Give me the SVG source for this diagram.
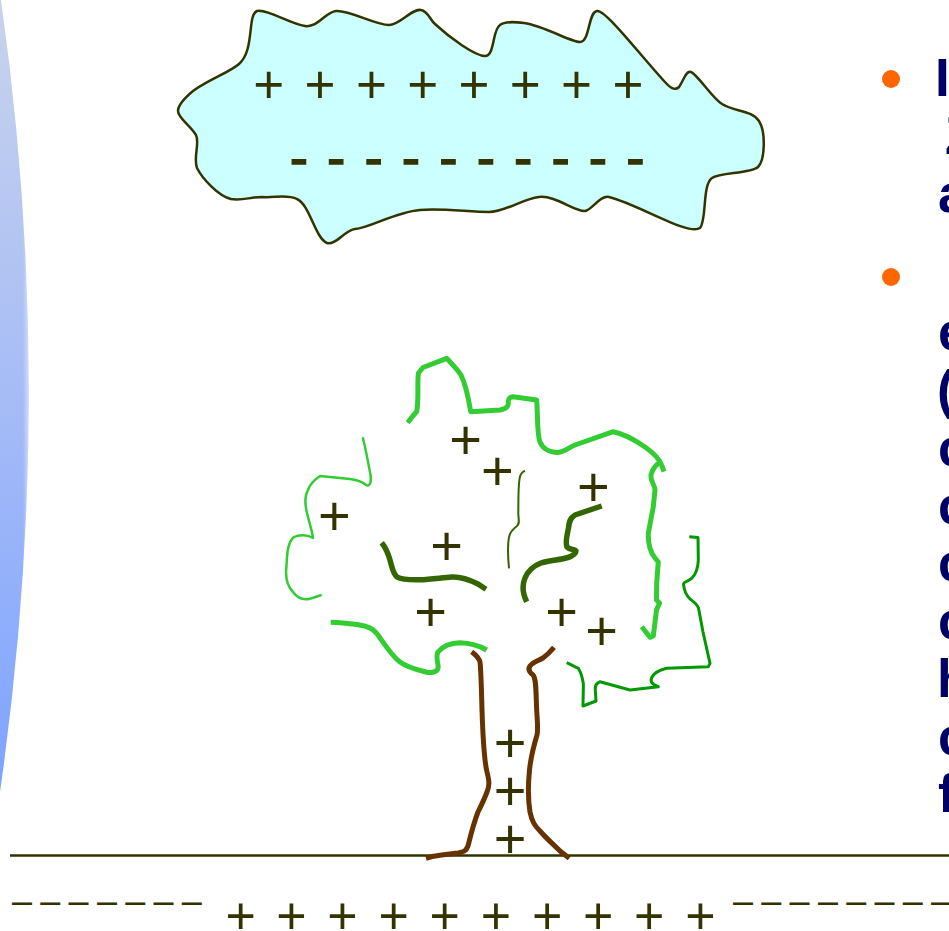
<svg xmlns="http://www.w3.org/2000/svg" width="949" height="931" viewBox="0 0 949 931">
  <defs>
    <linearGradient id="edgeFill" x1="0" y1="0" x2="0" y2="1">
      <stop offset="0" stop-color="#c8d3ec"/>
      <stop offset="0.5" stop-color="#a6bcf6"/>
      <stop offset="1" stop-color="#7ea3ff"/>
    </linearGradient>
    <linearGradient id="edgeFade" x1="0" y1="0" x2="1" y2="0">
      <stop offset="0" stop-color="#ffffff" stop-opacity="0"/>
      <stop offset="0.8" stop-color="#ffffff" stop-opacity="0"/>
      <stop offset="1" stop-color="#ffffff" stop-opacity="0.5"/>
    </linearGradient>
    <style>
      .charge { font-family: "Liberation Sans", Arial, sans-serif; fill: #333300; text-anchor: middle; }
      .body { font-family: "Liberation Sans", Arial, sans-serif; fill: #000066; font-size: 53px; font-weight: bold; }
      .leaf { fill: none; stroke: #33cc33; stroke-linecap: butt; stroke-linejoin: round; }
      .branch { fill: none; stroke: #336600; stroke-linejoin: round; }
      .leaf2 { fill: none; stroke: #009900; stroke-width: 3; stroke-linejoin: round; }
      .bark { fill: none; stroke: #663300; stroke-width: 5; stroke-linejoin: round; }
      .bullet { fill: #ff6600; }
    </style>
  </defs>

  <rect width="949" height="931" fill="#ffffff"/>

  <!-- curved blue band along the left edge -->
  <g id="edge-band">
    <path d="M0,0 L1,0 Q57,395 0,792 Z" fill="url(#edgeFill)"/>
    <path d="M0,0 L1,0 Q57,395 0,792 Z" fill="url(#edgeFade)"/>
  </g>

  <!-- charged cloud -->
  <g id="cloud">
    <path d="M257,11 C268,9 290,24 305,26 C318,28 325,12 336,11 C350,10 375,25 389,25 C400,25 412,8 421,10 C428,11 430,20 435,24 C450,38 475,56 485,56 C495,56 492,30 500,25 C505,21 515,22 524,23 C545,26 570,42 580,42 C590,42 588,12 597,11 C606,10 640,55 665,82 C672,90 676,90 679,87 C684,80 686,70 691,72 C698,75 712,98 722,104 C735,112 752,110 759,121 C766,132 765,160 758,167 C750,174 720,172 712,178 C702,185 707,220 700,228 C688,236 640,205 609,197 C600,195 592,210 585,211 C575,212 555,195 539,197 C522,199 505,212 489,212 C470,212 440,208 420,210 C395,212 370,228 355,229 C345,230 335,246 327,243 C315,238 310,205 297,199 C287,194 275,198 262,197 C250,197 242,201 231,199 C218,196 202,178 197,168 C193,158 200,143 196,135 C190,125 178,118 178,111 C178,104 187,96 193,91 C208,80 230,72 239,64 C255,50 247,15 257,11 Z" fill="#ccffff" stroke="#333300" stroke-width="2.5"/>
    <text class="charge" font-size="53" x="268.8 320.1 371.4 422.7 474 525.3 576.6 627.9" y="102.7">++++++++</text>
    <text class="charge" font-size="55" stroke="#333300" stroke-width="1.3" x="298.8 336.2 373.6 411 448.4 485.8 523.2 560.6 598 635.4" y="176.5">----------</text>
  </g>

  <!-- ground line -->
  <g id="ground">
    <line x1="10" y1="855.5" x2="949" y2="855.5" stroke="#333300" stroke-width="2.5"/>
  </g>

  <!-- tree -->
  <g id="tree">
    <g id="crown">
      <path class="leaf" stroke-width="5" d="M407.7,422.7 L412,417 L416.7,411.7 C419,400 417,380 418.5,373 L423,367.5 L446.7,358.3 C452,364 458,370 461,375 C466,385 468,395 470.7,411.7 L500,410 C505,409 508,407 508.3,404 C508,399 509,397 513,396.7 L536.7,400 C538,420 537,435 540,442 C543,449 548,452 558,452.5 C565,452 568,448 575,445 L613.3,431.7 C625,434 635,440 645,447 C655,454 660,460 662,466 L664,471.7"/>
      <path class="leaf" stroke-width="5" d="M660,462 C656,465 652,470 651,475 C650,481 655,485 655,490 L653.3,506.7 L648.3,533.3 C648,545 650,552 655,558 L658.3,562 L656.7,583 L656.5,600 L659.5,603 L656.5,610 L653.3,636 L650,637.3 L641.7,626.7"/>
      <path class="leaf" stroke-width="2.5" d="M362.7,437.3 C366,450 368,462 370.5,475 C371.5,482 370,487 366,485 C362,481 357,480 350,479 L320,476 C314,480 310,484 308,490 C304,497 305,505 307,513 C309,522 312,530 313,538 C308,535 300,534 294,537 C288,542 287,552 286.5,566 C285,578 287,586 293,592 C298,599 303,600 309,599 C314,598 318,596 321.7,595"/>
      <path class="leaf" stroke-width="5" d="M330.7,622.3 C345,623 358,624 366.7,626.7 C372,628 375,631 378,635 C385,645 392,656 400,662 C408,668 418,670 428,672.5 C436,673 439,670 438,665 C437,660 436,655 438,652 C442,647 450,643 460,642.7 C470,643 480,646 486.7,650"/>
      <path class="leaf2" d="M689.3,536.7 L698,537.5 L698.3,560 C698,568 696,574 692,578 C688,582 684,581 683.5,584 C684,590 686,595 690,599 C694,602 697,604 698.5,608 L703,632 L710,663.3 L708.3,666.7 L666.7,668.3 C660,670 654,673 652,677 C650,681 651,684 658.3,686.7 L630,690 L600,681.7 C596,683 595,686 595.3,690 L596,701 L583,706 C583,700 583.5,690 583.3,683.3 C582,675 580,671 578.3,668.3 L566.7,662.7"/>
    </g>
    <g id="branches">
      <path class="branch" stroke-width="2" d="M525,470.7 C522,472 520,475 519.5,479 C518,490 518.5,505 518.3,513 C518.5,520 520,524 517,526 C513,529 510,532 509,537 C507,548 508,558 509,568.3"/>
      <path class="branch" stroke-width="5.5" d="M381.7,542.7 C386,548 388,553 390,560 C392,567 393,574 397,577 C402,580 410,580 420,579.8 C430,579.5 440,578 452,577 C462,576.5 470,580 478,584 L486,589.3"/>
      <path class="branch" stroke-width="5.5" d="M601.7,506 L575,515 C570,518 569,522 568.5,528 C567,535 565,543 567,547 C570,550 575,549 576,551 C576,553 573,556 568,557.5 C560,560 550,560 541,563 C533,566 528,571 525,578 C522,585 522,592 526.7,601.7"/>
    </g>
    <g id="trunk">
      <path class="bark" d="M471.7,651.7 C476,655 479,658 480,662 C481,670 481.5,690 482,710 C483,740 484,760 487,772 C489,780 490,785 487,792 C484,800 481,806 478,812 C473,825 470,838 468,846 C466,851 464,852 458,853 C450,854 440,855 432,856.5 L426,858.3"/>
      <path class="bark" d="M554,647.3 C550,652 547,655 543,658 C538,661 533,662 530,666 C528,669 529,672 533,675 C536,678 536,690 536.5,706 C537,720 538.5,728 537,735 C534,745 531,755 529.5,770 C528,785 528,800 530,812 C532,822 535,826 540,831 C547,839 554,845 560,851 L569.3,858.3"/>
    </g>
    <g id="tree-charges" class="charge" font-size="56">
      <text x="465.7" y="458.7">+</text>
      <text x="497.3" y="490.4">+</text>
      <text x="593.3" y="506.4">+</text>
      <text x="334.3" y="535.4">+</text>
      <text x="446.7" y="564.7">+</text>
      <text x="430.7" y="631.4">+</text>
      <text x="561.7" y="631.4">+</text>
      <text x="601.7" y="650.4">+</text>
      <text x="510" y="762.4">+</text>
      <text x="510" y="810.4">+</text>
      <text x="510" y="858">+</text>
    </g>
  </g>

  <!-- charges in the ground -->
  <g id="ground-charges">
    <text class="charge" font-size="36" x="22 50.3 78.6 106.9 135.2 163.5 191.8" y="912.8">–––––––</text>
    <text class="charge" font-size="52" x="240.6 291.5 342.4 393.6 444.8 495.9 547.1 598.2 649.3 700.4" y="933.8">++++++++++</text>
    <text class="charge" font-size="36" x="743 771.3 799.6 827.9 856.2 884.5 912.8 941.1" y="912.8">––––––––</text>
  </g>

  <!-- bullet text at the right margin -->
  <g id="bullets">
    <circle class="bullet" cx="891" cy="79" r="9"/>
    <circle class="bullet" cx="891" cy="277" r="9"/>
    <text class="body" x="935" y="96">I</text>
    <text class="body" x="945" y="154">Z</text>
    <text class="body" x="938" y="212">a</text>
    <text class="body" x="938" y="350">e</text>
    <text class="body" x="937" y="408">(</text>
    <text class="body" x="938" y="466">c</text>
    <text class="body" x="938" y="524">c</text>
    <text class="body" x="938" y="581">c</text>
    <text class="body" x="938" y="639">c</text>
    <text class="body" x="937" y="697">h</text>
    <text class="body" x="938" y="755">c</text>
    <text class="body" x="938" y="812">f</text>
  </g>
</svg>
